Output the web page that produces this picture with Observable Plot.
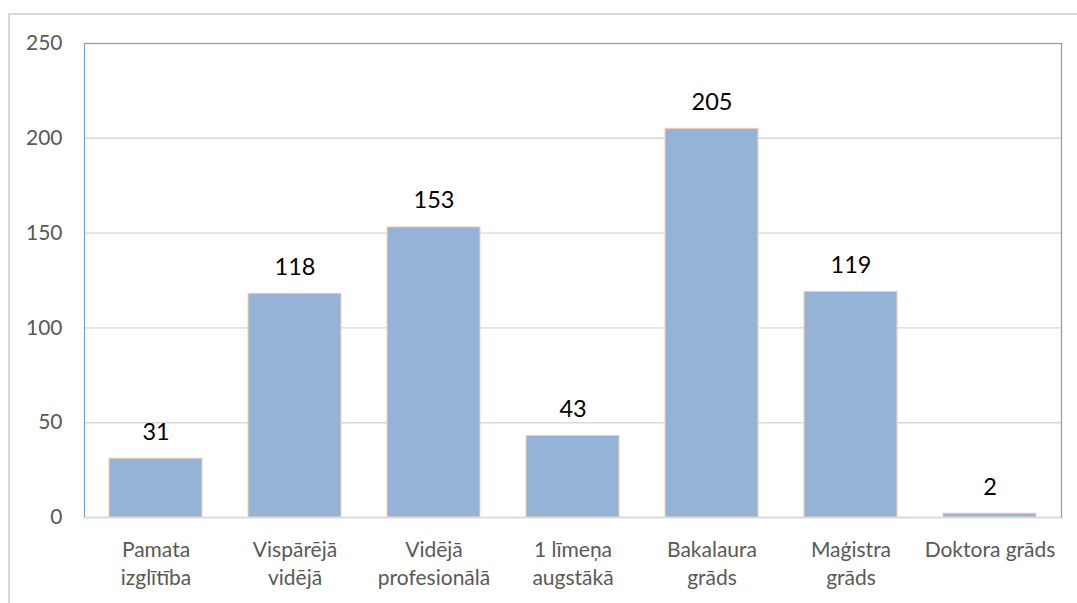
<!DOCTYPE html>
<html>
<head>
<meta charset="utf-8">
<script src="https://cdn.jsdelivr.net/npm/d3@7"></script>
<script src="https://cdn.jsdelivr.net/npm/@observablehq/plot@0.6"></script>
<style>
  html, body { margin: 0; padding: 0; background: #fff; overflow: hidden; }
  #wrap { position: relative; width: 1077px; height: 603px; }
  #border { position: absolute; left: 8px; top: 13px; width: 1200px; height: 800px;
            border: 2px solid #d9d9d9; box-sizing: border-box; pointer-events: none; z-index: 2; }
  #chart { position: absolute; left: 0; top: 0; z-index: 1; }
</style>
</head>
<body>
<div id="wrap"><div id="border"></div><div id="chart"></div></div>
<script>
const categories = ["Pamata\nizglītība", "Vispārējā\nvidējā", "Vidējā\nprofesionālā", "1 līmeņa\naugstākā", "Bakalaura\ngrāds", "Maģistra\ngrāds", "Doktora grāds"];
const values = [31, 118, 153, 43, 205, 119, 2];
const yTicks = [0, 50, 100, 150, 200, 250];
const gridValues = [50, 100, 150, 200];

const data = categories.map((c, i) => ({category: c, value: values[i]}));

const chart = Plot.plot({
  width: 1077,
  height: 603,
  marginLeft: 84,
  marginRight: 16,
  marginTop: 43,
  marginBottom: 86,
  style: {fontFamily: "Lato, 'Open Sans', sans-serif", background: "transparent", overflow: "visible"},
  x: {domain: categories, paddingInner: 0.33, paddingOuter: 0.165, label: null},
  y: {domain: [0, 250], label: null},
  marks: [
    Plot.ruleY(gridValues, {stroke: "#d9d9d9", strokeWidth: 1.4}),
    Plot.frame({stroke: "#7b9ed6", strokeWidth: 1.2}),
    Plot.barY(data, {x: "category", y: "value", fill: "#95b3d7", stroke: "#f8cfa8", strokeWidth: 1}),
    Plot.ruleY([0], {stroke: "#d9d9d9", strokeWidth: 1.6}),
    Plot.text(data, {x: "category", y: "value", text: d => String(d.value), lineAnchor: "bottom", dy: -19, fontSize: 23.5, fill: "#000"}),
    Plot.axisY({ticks: yTicks, tickSize: 0, tickPadding: 22, fontSize: 21, color: "#595959", label: null}),
    Plot.axisX({tickSize: 0, tickPadding: 20, fontSize: 21, lineHeight: 1.333, color: "#595959", label: null})
  ]
});
document.getElementById("chart").appendChild(chart);
</script>
</body>
</html>
